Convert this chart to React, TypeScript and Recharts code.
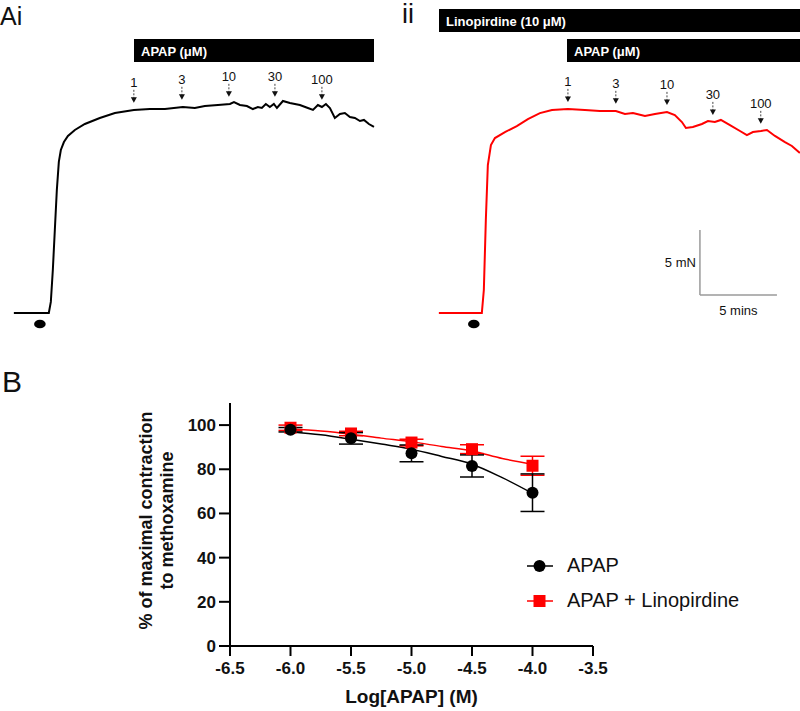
import React from "react";
import {
  ComposedChart,
  ErrorBar,
  Legend,
  Line,
  LineChart,
  ReferenceDot,
  ReferenceLine,
  Scatter,
  XAxis,
  YAxis
} from "recharts";

const FONT = '"Liberation Sans", Arial, Helvetica, sans-serif';

// ---- panel A: force traces (time in min, tension in mN above baseline) ----
const doseLabels = ["1", "3", "10", "30", "100"];
const doseTimesA = [7.79, 10.91, 13.96, 16.95, 20.0];
const doseTimesB = [8.38, 11.49, 14.81, 17.79, 20.9];

const traceA: [number, number][] = [
  [0, 0], [2.27, 0], [2.4, 0.85], [2.53, 3.31], [2.66, 6.38], [2.79, 9.46], [2.92, 11.62],
  [3.05, 12.54], [3.25, 13.15], [3.51, 13.62], [3.96, 14.08], [4.61, 14.54], [5.58, 15.0],
  [6.56, 15.38], [7.79, 15.62], [8.83, 15.69], [9.81, 15.69], [10.97, 15.85], [11.75, 15.77],
  [12.4, 15.92], [13.25, 16.0], [14.03, 16.08], [14.29, 16.23], [14.68, 16.0], [15.13, 15.92],
  [15.52, 15.69], [15.84, 15.85], [16.1, 15.77], [16.36, 16.08], [16.62, 15.85], [16.88, 16.08],
  [17.08, 15.77], [17.47, 16.31], [17.92, 16.15], [18.57, 16.0], [19.09, 15.77], [19.42, 15.62],
  [19.74, 16.0], [20.0, 15.85], [20.26, 16.08], [20.52, 15.77], [20.84, 15.0], [21.17, 15.31],
  [21.49, 15.38], [21.82, 15.08], [22.14, 15.0], [22.47, 14.77], [22.73, 14.85], [23.05, 14.54],
  [23.38, 14.31]
];

const traceB: [number, number][] = [
  [0, 0], [2.79, 0], [2.92, 1.77], [3.05, 7.15], [3.18, 11.38], [3.38, 12.92], [3.64, 13.46],
  [4.29, 13.92], [5.06, 14.38], [5.78, 14.92], [6.56, 15.38], [7.34, 15.62], [8.38, 15.69],
  [9.48, 15.62], [10.45, 15.54], [11.49, 15.54], [12.08, 15.31], [12.6, 15.38], [13.38, 15.15],
  [14.03, 15.31], [14.81, 15.46], [15.32, 15.23], [15.78, 14.69], [16.04, 14.23], [16.49, 14.31],
  [17.08, 14.54], [17.47, 14.77], [17.92, 14.69], [18.31, 14.85], [18.9, 14.46], [19.55, 14.0],
  [20.0, 13.69], [20.39, 13.92], [20.91, 14.0], [21.3, 14.08], [21.82, 13.62], [22.47, 13.15],
  [22.92, 12.85], [23.44, 12.31]
];

const methoxTimeA = 1.69;
const methoxTimeB = 2.27;

// ---- panel B: concentration-response ----
const logConc = [-6, -5.5, -5, -4.5, -4];
const apapMean = [97.9, 94.0, 87.2, 81.5, 69.4];
const apapSem = [1.0, 2.6, 3.8, 5.0, 8.5];
const linoMean = [98.8, 96.2, 92.1, 89.1, 81.6];
const linoSem = [1.2, 1.0, 1.5, 2.0, 4.3];

const fitX = [-6, -5.75, -5.5, -5.25, -5, -4.75, -4.5, -4.25, -4];
const apapFit = [97.0, 95.6, 93.6, 91.4, 89.1, 85.8, 82.3, 76.2, 69.1];
const linoFit = [98.2, 97.3, 95.9, 94.1, 92.4, 90.3, 88.3, 84.9, 82.3];

const xTicks = [-6.5, -6, -5.5, -5, -4.5, -4, -3.5];
const yTicks = [0, 20, 40, 60, 80, 100];

const RED = "#ff0000";

const toPts = (rows: [number, number][]) => rows.map(([t, v]) => ({ t, v }));

function levelAt(rows: [number, number][], t: number) {
  let best = rows[0];
  for (const r of rows) if (Math.abs(r[0] - t) < Math.abs(best[0] - t)) best = r;
  return best[1];
}

const DoseArrow = (props: any) => {
  const { cx, cy, text } = props;
  return (
    <g>
      <line x1={cx} y1={cy - 13} x2={cx} y2={cy - 5} stroke="#444" strokeWidth={1} strokeDasharray="2 1.5" />
      <path d={`M${cx - 3},${cy - 5.5}L${cx + 3},${cy - 5.5}L${cx},${cy}Z`} fill="#111" />
      <text x={cx} y={cy - 16} textAnchor="middle" fontSize={13} fontFamily={FONT} fill="#111">
        {text}
      </text>
    </g>
  );
};

const Blob = (props: any) => <ellipse cx={props.cx} cy={props.cy} rx={5.8} ry={4.3} fill="#000" />;

function Trace({
  rows,
  color,
  doses,
  methoxTime,
  scaleBar
}: {
  rows: [number, number][];
  color: string;
  doses: number[];
  methoxTime: number;
  scaleBar?: { t: number; v: number };
}) {
  return (
    <LineChart width={400} height={340} data={toPts(rows)} margin={{ top: 0, right: 0, bottom: 0, left: 0 }}>
      <XAxis type="number" dataKey="t" domain={[-0.9, 25.07]} hide allowDataOverflow />
      <YAxis type="number" domain={[-2.08, 24.08]} hide allowDataOverflow />
      <Line
        type="linear"
        dataKey="v"
        stroke={color}
        strokeWidth={2}
        dot={false}
        activeDot={false}
        isAnimationActive={false}
      />
      {doses.map((t, i) => (
        <ReferenceDot
          key={doseLabels[i]}
          x={t}
          y={levelAt(rows, t) + 0.55}
          shape={(p: any) => <DoseArrow {...p} text={doseLabels[i]} />}
        />
      ))}
      <ReferenceDot x={methoxTime} y={-0.85} shape={Blob} />
      {scaleBar && (
        <ReferenceLine
          segment={[{ x: scaleBar.t, y: scaleBar.v }, { x: scaleBar.t, y: scaleBar.v + 5 }]}
          stroke="#9a9a9a"
          strokeWidth={1.5}
        />
      )}
      {scaleBar && (
        <ReferenceLine
          segment={[{ x: scaleBar.t, y: scaleBar.v }, { x: scaleBar.t + 5, y: scaleBar.v }]}
          stroke="#9a9a9a"
          strokeWidth={1.5}
        />
      )}
      {scaleBar && (
        <ReferenceDot
          x={scaleBar.t}
          y={scaleBar.v + 2.5}
          shape={(p: any) => (
            <text x={p.cx - 4} y={p.cy + 5} textAnchor="end" fontSize={13} fontFamily={FONT} fill="#111">
              5 mN
            </text>
          )}
        />
      )}
      {scaleBar && (
        <ReferenceDot
          x={scaleBar.t + 2.5}
          y={scaleBar.v}
          shape={(p: any) => (
            <text x={p.cx} y={p.cy + 20} textAnchor="middle" fontSize={13} fontFamily={FONT} fill="#111">
              5 mins
            </text>
          )}
        />
      )}
    </LineChart>
  );
}

const YLabel = (props: any) => {
  const vb = props.viewBox;
  const cy = vb.y + vb.height / 2 - 4;
  const x1 = vb.x + 46;
  const x2 = x1 + 21;
  const common = {
    textAnchor: "middle" as const,
    dominantBaseline: "central" as const,
    fontSize: 18,
    fontWeight: "bold",
    fontFamily: FONT,
    fill: "#111"
  };
  return (
    <g>
      <text transform={`translate(${x1},${cy}) rotate(-90)`} {...common}>
        % of maximal contraction
      </text>
      <text transform={`translate(${x2},${cy}) rotate(-90)`} {...common}>
        to methoxamine
      </text>
    </g>
  );
};

const legendItems = [
  { name: "APAP", color: "#000", square: false },
  { name: "APAP + Linopirdine", color: RED, square: true }
];

const LegendBox = () => (
  <div style={{ fontFamily: FONT }}>
    {legendItems.map((it) => (
      <div key={it.name} style={{ display: "flex", alignItems: "center", height: 35 }}>
        <svg width={26} height={14} style={{ marginRight: 14 }}>
          <line x1={0} y1={7} x2={26} y2={7} stroke={it.color} strokeWidth={1.5} />
          {it.square ? (
            <rect x={6.5} y={1} width={12} height={12} fill={it.color} />
          ) : (
            <circle cx={12.5} cy={7} r={6} fill={it.color} />
          )}
        </svg>
        <span style={{ fontSize: 20, color: "#111" }}>{it.name}</span>
      </div>
    ))}
  </div>
);

const Circle = (p: any) => <circle cx={p.cx} cy={p.cy} r={6} fill="#000" />;
const Square = (p: any) => <rect x={p.cx - 6} y={p.cy - 6} width={12} height={12} fill={RED} />;

function DoseResponse() {
  const apapPts = logConc.map((x, i) => ({ x, y: apapMean[i], err: apapSem[i] }));
  const linoPts = logConc.map((x, i) => ({ x, y: linoMean[i], err: linoSem[i] }));
  const apapCurve = fitX.map((x, i) => ({ x, y: apapFit[i] }));
  const linoCurve = fitX.map((x, i) => ({ x, y: linoFit[i] }));
  const tickStyle = { fill: "#111", fontSize: 17, fontWeight: "bold", fontFamily: FONT };
  return (
    <ComposedChart width={700} height={321} margin={{ top: 13, right: 207, bottom: 0, left: 0 }}>
      <XAxis
        type="number"
        dataKey="x"
        domain={[-6.5, -3.5]}
        ticks={xTicks}
        tickFormatter={(v: number) => v.toFixed(1)}
        height={65}
        stroke="#000"
        strokeWidth={2}
        tickSize={10}
        tickMargin={6}
        tick={tickStyle}
        interval={0}
        label={{
          value: "Log[APAP] (M)",
          position: "insideBottom",
          offset: 8,
          fontSize: 19,
          fontWeight: "bold",
          fontFamily: FONT,
          fill: "#111"
        }}
      />
      <YAxis
        type="number"
        dataKey="y"
        domain={[0, 110]}
        ticks={yTicks}
        width={130}
        stroke="#000"
        strokeWidth={2}
        tickSize={11}
        tickMargin={3}
        tick={tickStyle}
        interval={0}
        label={{ content: (p: any) => <YLabel {...p} /> }}
      />
      <Legend
        verticalAlign="middle"
        align="center"
        content={() => <LegendBox />}
        wrapperStyle={{ left: 427, top: 158, width: 270, height: 70 }}
      />
      <Line data={linoCurve} dataKey="y" type="monotone" stroke={RED} strokeWidth={1.5} dot={false} activeDot={false} isAnimationActive={false} legendType="none" />
      <Line data={apapCurve} dataKey="y" type="monotone" stroke="#000" strokeWidth={1.5} dot={false} activeDot={false} isAnimationActive={false} legendType="none" />
      <Scatter data={linoPts} shape={Square} isAnimationActive={false}>
        <ErrorBar dataKey="err" direction="y" width={12} stroke={RED} strokeWidth={1.5} />
      </Scatter>
      <Scatter data={apapPts} shape={Circle} isAnimationActive={false}>
        <ErrorBar dataKey="err" direction="y" width={12} stroke="#000" strokeWidth={1.5} />
      </Scatter>
    </ComposedChart>
  );
}

export default function App() {
  return (
    <div
      style={{
        position: "absolute",
        left: 0,
        top: 0,
        width: 800,
        height: 711,
        overflow: "hidden",
        background: "#fff",
        fontFamily: FONT
      }}
    >
      <div style={{ position: "absolute", left: 0, top: 0 }}>
        <Trace rows={traceA} color="#000" doses={doseTimesA} methoxTime={methoxTimeA} />
      </div>
      <div style={{ position: "absolute", left: 425, top: 0 }}>
        <Trace
          rows={traceB}
          color={RED}
          doses={doseTimesB}
          methoxTime={methoxTimeB}
          scaleBar={{ t: 16.95, v: 1.385 }}
        />
      </div>
      <div style={{ position: "absolute", left: 100, top: 390 }}>
        <DoseResponse />
      </div>
      <svg width={800} height={711} style={{ position: "absolute", left: 0, top: 0, pointerEvents: "none" }}>
        <g fontFamily={FONT}>
          <text x={0} y={25} fontSize={25} fill="#111">Ai</text>
          <text x={402} y={23} fontSize={27} fill="#111">ii</text>
          <text x={2} y={392} fontSize={30} fill="#111">B</text>
          <rect x={134} y={39} width={240} height={23} fill="#000" />
          <text x={141} y={55.5} fontSize={13} fontWeight="bold" fill="#fff">APAP (μM)</text>
          <rect x={439} y={9} width={361} height={23} fill="#000" />
          <text x={446} y={25.5} fontSize={13} fontWeight="bold" fill="#fff">Linopirdine (10 μM)</text>
          <rect x={567} y={39} width={233} height={23} fill="#000" />
          <text x={574} y={55.5} fontSize={13} fontWeight="bold" fill="#fff">APAP (μM)</text>
        </g>
      </svg>
    </div>
  );
}
